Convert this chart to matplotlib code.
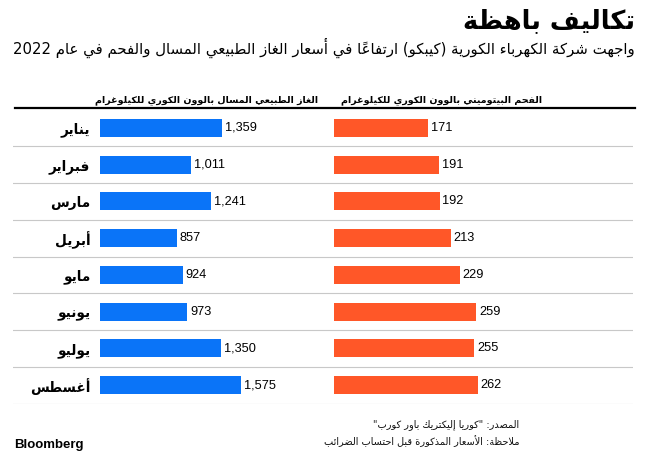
import matplotlib
matplotlib.use("Agg")
import matplotlib.pyplot as plt
from matplotlib.lines import Line2D

# data
months = ["يناير", "فبراير", "مارس", "أبريل", "مايو", "يونيو", "يوليو", "أغسطس"]
lng_prices = [1359, 1011, 1241, 857, 924, 973, 1350, 1575]
coal_prices = [171, 191, 192, 213, 229, 259, 255, 262]

title = "تكاليف باهظة"
subtitle = "واجهت شركة الكهرباء الكورية (كيبكو) ارتفاعاً في أسعار الغاز الطبيعي المسال والفحم في عام 2022"
lng_header = "الغاز الطبيعي المسال بالوون الكوري للكيلوغرام"
coal_header = "الفحم البيتوميني بالوون الكوري للكيلوغرام"
source = "المصدر: \"كوريا إليكتريك باور كورب\""
note = "ملاحظة: الأسعار المذكورة قبل احتساب الضرائب"

BLUE = "#0a74f8"
ORANGE = "#ff5728"

# --- minimal Arabic shaping + right-to-left ordering (matplotlib has none) ---
_counts = [(0x621, 1), (0x622, 2), (0x623, 2), (0x624, 2), (0x625, 2), (0x626, 4),
           (0x627, 2), (0x628, 4), (0x629, 2)] + [(c, 4) for c in range(0x62A, 0x62F)] + \
          [(c, 2) for c in range(0x62F, 0x633)] + [(c, 4) for c in range(0x633, 0x63B)] + \
          [(c, 4) for c in range(0x641, 0x648)] + [(0x648, 2), (0x649, 2), (0x64A, 4)]
FORMS = {}
_pos = 0xFE80
for code, n in _counts:
    FORMS[chr(code)] = (n, _pos)
    _pos += n
LAM_ALEF = {"\u0622": 0xFEF5, "\u0623": 0xFEF7, "\u0625": 0xFEF9, "\u0627": 0xFEFB}


def is_mark(c):
    return 0x64B <= ord(c) <= 0x652 or ord(c) == 0x670


def shape(text):
    chars = list(text)
    out = []
    i = 0
    prev_dual = False
    while i < len(chars):
        c = chars[i]
        if is_mark(c):
            out.append(c)
            i += 1
            continue
        if c not in FORMS:
            out.append(c)
            prev_dual = False
            i += 1
            continue
        # next non-mark char
        j = i + 1
        while j < len(chars) and is_mark(chars[j]):
            j += 1
        nxt = chars[j] if j < len(chars) else None
        if c == "\u0644" and nxt in LAM_ALEF:
            base = LAM_ALEF[nxt]
            out.append(chr(base + 1 if prev_dual else base))
            out.extend(chars[i + 1:j])
            prev_dual = False
            i = j + 1
            continue
        n, start = FORMS[c]
        jp = prev_dual and n > 1
        jn = n == 4 and nxt in FORMS and FORMS[nxt][0] > 1
        if n == 1:
            idx = 0
        elif jp and jn:
            idx = 3
        elif jp:
            idx = 1
        elif jn:
            idx = 2
        else:
            idx = 0
        out.append(chr(start + idx))
        prev_dual = n == 4
        i += 1
    return "".join(out)


def ar(text):
    s = shape(text)
    clusters = []
    for c in s:
        if is_mark(c) and clusters:
            clusters[-1] += c
        elif c.isascii() and c.isdigit() and clusters and clusters[-1].isascii() and clusters[-1].isdigit():
            clusters[-1] += c
        else:
            clusters.append(c)
    mirror = {"(": ")", ")": "("}
    return "".join(mirror.get(c, c) for c in reversed(clusters))


AR_FONT = "DejaVu Sans"
NUM_FONT = "Liberation Sans"

W, H = 649, 459
fig = plt.figure(figsize=(W / 100, H / 100), dpi=100)
fig.patch.set_facecolor("white")


def fx(px):
    return px / W


def fy(py):
    return 1 - py / H


# titles
fig.text(fx(635), fy(21), ar(title), ha="right", va="center", fontsize=18.5,
         fontweight="bold", family=AR_FONT)
fig.text(fx(635), fy(48), ar(subtitle), ha="right", va="center", fontsize=10.7,
         family=AR_FONT)

# column headers
fig.text(fx(318), fy(100), ar(lng_header), ha="right", va="center", fontsize=6.8,
         fontweight="bold", family=AR_FONT)
fig.text(fx(542), fy(100), ar(coal_header), ha="right", va="center", fontsize=6.8,
         fontweight="bold", family=AR_FONT)

fig.add_artist(Line2D([fx(15), fx(635)], [fy(108), fy(108)], color="black", lw=1.6))

row_top, row_bot = 109.6, 403.6
n = len(months)

# background axes for separators
bg = fig.add_axes([fx(13), fy(row_bot), fx(633 - 13), (row_bot - row_top) / H])
bg.set_ylim(n - 0.5, -0.5)
bg.set_xlim(0, 1)
for k in range(n):
    bg.axhline(k + 0.5, color="#c8c8c8", lw=0.8)
bg.axis("off")

# LNG bars
px_per_lng = 122 / 1359
ax1 = fig.add_axes([fx(100), fy(row_bot), fx(215), (row_bot - row_top) / H])
ax1.barh(range(n), lng_prices, height=0.49, color=BLUE)
ax1.set_xlim(0, 215 / px_per_lng)
ax1.set_ylim(n - 0.5, -0.5)
for k, v in enumerate(lng_prices):
    ax1.annotate(f"{v:,}", (v, k), xytext=(2, 0), textcoords="offset points",
                 ha="left", va="center", fontsize=9.2, family=NUM_FONT)
ax1.set_yticks(range(n))
ax1.set_yticklabels([ar(m) for m in months], family=AR_FONT, fontweight="bold",
                    fontsize=9.8)
ax1.tick_params(axis="y", length=0, pad=7)
ax1.set_xticks([])
for s in ax1.spines.values():
    s.set_visible(False)
ax1.patch.set_alpha(0)

# coal bars
px_per_coal = 94 / 171
ax2 = fig.add_axes([fx(334), fy(row_bot), fx(290), (row_bot - row_top) / H])
ax2.barh(range(n), coal_prices, height=0.49, color=ORANGE)
ax2.set_xlim(0, 290 / px_per_coal)
ax2.set_ylim(n - 0.5, -0.5)
for k, v in enumerate(coal_prices):
    ax2.annotate(f"{v:,}", (v, k), xytext=(2, 0), textcoords="offset points",
                 ha="left", va="center", fontsize=9.2, family=NUM_FONT)
ax2.set_yticks([])
ax2.set_xticks([])
for s in ax2.spines.values():
    s.set_visible(False)
ax2.patch.set_alpha(0)

# footer
fig.text(fx(519), fy(425), ar(source), ha="right", va="center", fontsize=7,
         family=AR_FONT, color="#111111")
fig.text(fx(519), fy(441), ar(note), ha="right", va="center", fontsize=7,
         family=AR_FONT, color="#111111")
fig.text(fx(14), fy(445), "Bloomberg", ha="left", va="center", fontsize=9.5,
         fontweight="bold", family=NUM_FONT)

fig.savefig("out.png", dpi=100)
